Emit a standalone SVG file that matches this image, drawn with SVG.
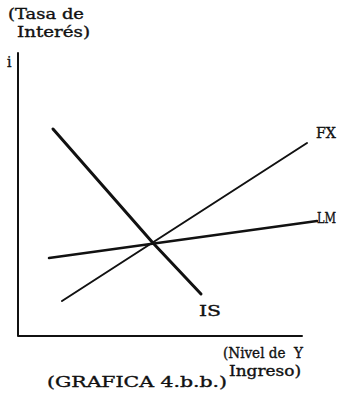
<svg xmlns="http://www.w3.org/2000/svg" width="340" height="401" viewBox="0 0 340 401">
<style>
text{font-family:"DejaVu Serif","Liberation Serif",serif;font-size:14px;fill:#111;stroke:#111;stroke-width:0.35}
.ln{stroke:#111;fill:none;stroke-linecap:round;stroke-linejoin:round}
</style>
<rect width="340" height="401" fill="#fff"/>
<g id="axes">
<path class="ln" d="M18 53 V336 H302" stroke-width="2"/>
<text x="8" y="19" textLength="76" lengthAdjust="spacingAndGlyphs">(Tasa de</text>
<text x="17" y="37" textLength="73" lengthAdjust="spacingAndGlyphs">Interés)</text>
<text x="7" y="67">i</text>
<text x="223" y="358" textLength="80" lengthAdjust="spacingAndGlyphs" xml:space="preserve">(Nivel de  Y</text>
<text x="229" y="376" textLength="72" lengthAdjust="spacingAndGlyphs">Ingreso)</text>
<text x="47" y="387" textLength="180" lengthAdjust="spacingAndGlyphs">(GRAFICA 4.b.b.)</text>
</g>
<g id="connectors">
<polyline id="IS-line" class="ln" points="53,129 153,243 201,294" stroke-width="3"/>
<line id="FX-line" class="ln" x1="62" y1="301" x2="307" y2="143" stroke-width="2"/>
<line id="LM-line" class="ln" x1="49" y1="258" x2="317" y2="221" stroke-width="2.5"/>
</g>
<g id="IS"><text x="199" y="316" textLength="22" lengthAdjust="spacingAndGlyphs">IS</text></g>
<g id="FX"><text x="316" y="138" textLength="20" lengthAdjust="spacingAndGlyphs">FX</text></g>
<g id="LM"><text x="317" y="223" textLength="19" lengthAdjust="spacingAndGlyphs">LM</text></g>
</svg>
